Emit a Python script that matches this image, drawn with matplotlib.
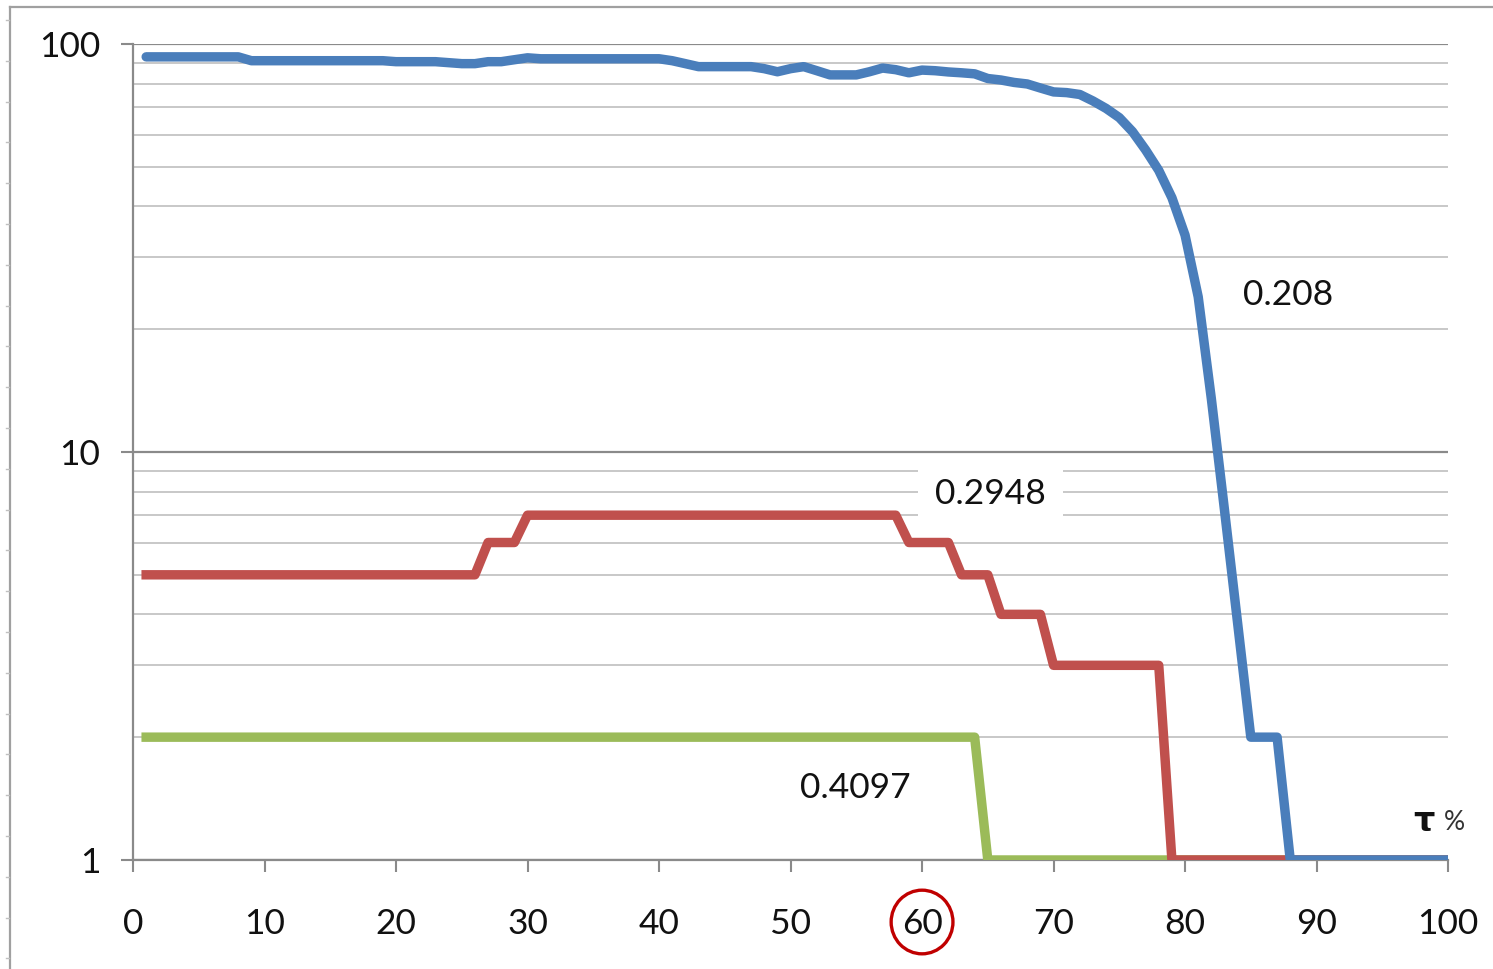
import matplotlib.pyplot as plt
from matplotlib.lines import Line2D
from matplotlib.patches import Ellipse
from matplotlib.ticker import FixedLocator, NullFormatter

plt.rcParams['font.family'] = ['Lato', 'DejaVu Sans']

# data (x = tau %, y on log scale)
tau = list(range(1, 101))

blue_vals = [93, 93, 93, 93, 93, 93, 93, 93,
             91, 91, 91, 91, 91, 91, 91, 91, 91, 91, 91,
             90.5, 90.5, 90.5, 90.5, 90, 89.5, 89.5, 90.5, 90.5, 91.5, 92.5,
             92, 92, 92, 92, 92, 92, 92, 92, 92, 92,
             91, 89.5, 88, 88, 88, 88, 88, 87, 85.5, 87,
             88, 86, 84, 84, 84, 85.5, 87.3, 86.5, 85, 86.3,
             86, 85.4, 85, 84.5, 82.3, 81.6, 80.5, 79.8, 78, 76.3,
             76, 75.2, 72.5, 69.5, 66, 61, 55, 49, 42, 34,
             24, 13.5, 7.2, 3.8, 2, 2, 2, 1, 1, 1,
             1, 1, 1, 1, 1, 1, 1, 1, 1, 1]

red_vals = [5] * 26 + [6] * 3 + [7] * 29 + [6] * 4 + [5] * 3 + [4] * 4 + [3] * 9 + [1] * 22
green_vals = [2] * 64 + [1] * 36

labels = ['0.208', '0.2948', '0.4097']

blue = '#4a7ebb'
red = '#c0504d'
green = '#9bbb59'
axis_grey = '#8a8a8a'
minor_grey = '#c8c8c8'

fig = plt.figure(figsize=(14.93, 9.69), dpi=100)
ax = fig.add_axes([0.0891, 0.1125, 0.8808, 0.8421])

lw = 6.8
ax.plot(tau, green_vals, color=green, lw=lw, solid_joinstyle='round', zorder=3)
ax.plot(tau, red_vals, color=red, lw=lw, solid_joinstyle='round', zorder=4)
ax.plot(tau, blue_vals, color=blue, lw=lw, solid_joinstyle='round',
        solid_capstyle='round', zorder=5)

ax.set_yscale('log')
ax.set_xlim(0, 100)
ax.set_ylim(1, 100)
ax.set_xticks(range(0, 101, 10))
ax.yaxis.set_major_locator(FixedLocator([1, 10, 100]))
ax.set_yticklabels(['1', '10', '100'])
ax.yaxis.set_minor_locator(FixedLocator([2, 3, 4, 5, 6, 7, 8, 9,
                                         20, 30, 40, 50, 60, 70, 80, 90]))
ax.yaxis.set_minor_formatter(NullFormatter())

ax.grid(True, which='major', axis='y', color=axis_grey, lw=1.6, zorder=1)
ax.grid(True, which='minor', axis='y', color=minor_grey, lw=1.4, zorder=1)
ax.set_axisbelow(True)

for s in ['top', 'right']:
    ax.spines[s].set_visible(False)
for s in ['left', 'bottom']:
    ax.spines[s].set_color(axis_grey)
    ax.spines[s].set_linewidth(1.6)

ax.tick_params(axis='x', which='major', direction='out', length=8.6, width=1.5,
               color=axis_grey, labelsize=25.5, pad=26, labelcolor='#111111')
ax.tick_params(axis='y', which='major', direction='out', length=8.6, width=1.5,
               color=axis_grey, labelsize=25.5, pad=15, labelcolor='#111111')
ax.tick_params(axis='y', which='minor', length=0)

# value labels
ax.text(87.8, 24.3, labels[0], fontsize=25.5, ha='center', va='center', color='#111111')
ax.text(65.2, 7.9, labels[1], fontsize=25.5, ha='center', va='center', color='#111111',
        bbox=dict(facecolor='white', edgecolor='none', pad=12), zorder=2)
ax.text(54.9, 1.5, labels[2], fontsize=25.5, ha='center', va='center', color='#111111')

# axis caption
ax.text(98.2, 1.24, 'τ', fontsize=24, fontweight='bold', ha='center', va='center',
        color='#111111', family=['DejaVu Sans'])
ax.text(100.5, 1.235, '%', fontsize=19, ha='center', va='center', color='#333333')

# red circle round the 60 label
circ = Ellipse((60, -0.076), width=4.7, height=0.078, transform=ax.get_xaxis_transform(),
               fill=False, edgecolor='#c00000', lw=2.4, clip_on=False, zorder=6)
ax.add_patch(circ)

# outer frame left over from the screenshot
fig.add_artist(Line2D([10 / 1493, 10 / 1493], [0, 1 - 7 / 969], color='#a0a0a0', lw=1.6))
fig.add_artist(Line2D([10 / 1493, 1], [1 - 7 / 969, 1 - 7 / 969], color='#a0a0a0', lw=1.6))
y = 20
while y < 969:
    fig.add_artist(Line2D([6 / 1493, 9 / 1493], [1 - y / 969, 1 - y / 969],
                          color='#c0c0c0', lw=1.0))
    y += 40.8

fig.savefig('out.png', dpi=100)
